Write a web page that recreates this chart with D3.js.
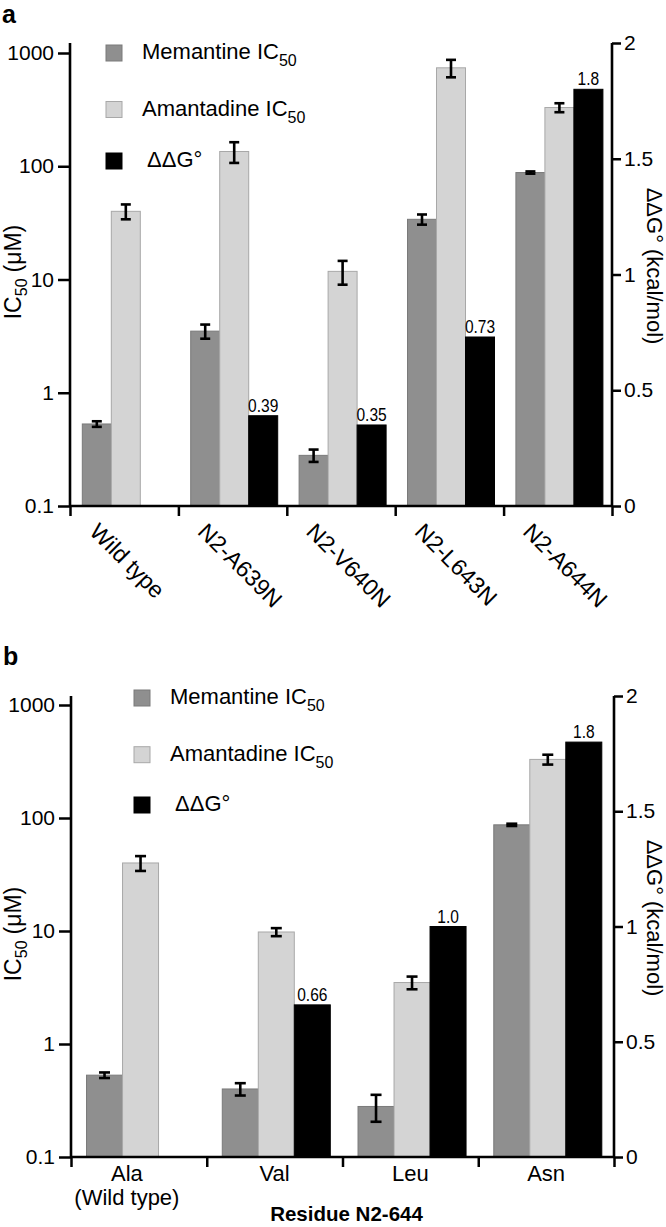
<!DOCTYPE html>
<html><head><meta charset="utf-8">
<script src="https://cdn.jsdelivr.net/npm/d3@7"></script>
<style>
body{margin:0;background:#fff}
svg{display:block}
text{font-family:"Liberation Sans",Arial,Helvetica,sans-serif;fill:#000}
</style>
</head><body>
<svg id="c" width="666" height="1227"></svg>
<script>
// ---------- data ----------
const seriesKeys = ["mem", "ama", "ddg"];
const seriesNames = ["Memantine IC", "Amantadine IC", "\u0394\u0394G\u00B0"];
const seriesSubs = ["50", "50", ""];
const icTicks = [0.1, 1, 10, 100, 1000];
const icTickLabels = ["0.1", "1", "10", "100", "1000"];
const ddgTicks = [0, 0.5, 1, 1.5, 2];
const ddgTickLabels = ["0", "0.5", "1", "1.5", "2"];

// panel a
const categoriesA = ["Wild type", "N2-A639N", "N2-V640N", "N2-L643N", "N2-A644N"];
const memantineA = [0.53, 3.5, 0.28, 34, 88];
const memantineErrA = [0.03, 0.5, 0.035, 3.5, 2];
const amantadineA = [40, 135, 11.8, 740, 330];
const amantadineErrA = [6, 28, 2.8, 130, 30];
const ddgA = [null, 0.39, 0.35, 0.73, 1.8];
const ddgLabelsA = ["", "0.39", "0.35", "0.73", "1.8"];

// panel b
const categoriesB = ["Ala", "Val", "Leu", "Asn"];
const subCategoriesB = ["(Wild type)", "", "", ""];
const memantineB = [0.53, 0.40, 0.28, 87];
const memantineErrB = [0.03, 0.05, 0.075, 2];
const amantadineB = [40, 9.8, 3.5, 330];
const amantadineErrB = [6, 0.8, 0.45, 33];
const ddgB = [null, 0.66, 1.0, 1.8];
const ddgLabelsB = ["", "0.66", "1.0", "1.8"];
const xTitleB = "Residue N2-644";

// ---------- drawing ----------
const svg = d3.select("#c");
const colors = {mem: "#8f8f8f", ama: "#d4d4d4", ddg: "#000"};
const strokes = {mem: "#7a7a7a", ama: "#a8a8a8", ddg: "#000"};

function panel(cfg, D) {
  const g = svg.append("g");
  const yL = d3.scaleLog().domain([0.1, 1000]).range([cfg.yBottom, cfg.yBottom - 4 * cfg.decade]);
  const yR = d3.scaleLinear().domain([0, 2]).range([cfg.yBottom, cfg.yTop]);
  const x = d3.scaleBand().domain(D.categories).range([cfg.x0, cfg.x1]).padding(0);
  const xs = d3.scaleBand().domain(seriesKeys).range([0, x.bandwidth()])
    .paddingInner(0).paddingOuter(cfg.outer).align(cfg.align);

  // panel letter
  g.append("text").attr("x", cfg.letterX).attr("y", cfg.letterY)
    .style("font-size", "25px").style("font-weight", "bold").text(cfg.letter);

  // bars
  const series = [
    {k: "mem", v: D.mem, e: D.memErr, s: yL},
    {k: "ama", v: D.ama, e: D.amaErr, s: yL},
    {k: "ddg", v: D.ddg, e: null, s: yR}
  ];
  series.forEach(S => {
    const rows = D.categories.map((c, i) => ({c, v: S.v[i], e: S.e ? S.e[i] : null, i}))
      .filter(d => d.v != null);
    g.append("g").selectAll("rect").data(rows).join("rect")
      .attr("x", d => x(d.c) + xs(S.k))
      .attr("width", xs.bandwidth())
      .attr("y", d => S.s(d.v))
      .attr("height", d => cfg.yBottom - S.s(d.v))
      .attr("fill", colors[S.k]).attr("stroke", strokes[S.k]).attr("stroke-width", 1);
    if (S.e) {
      const eg = g.append("g").attr("stroke", "#000").attr("stroke-width", 2.6);
      rows.forEach(d => {
        const cx = x(d.c) + xs(S.k) + xs.bandwidth() / 2;
        const y1 = S.s(d.v + d.e), y2 = S.s(Math.max(d.v - d.e, 0.1001));
        eg.append("line").attr("x1", cx).attr("x2", cx).attr("y1", y1).attr("y2", y2);
        eg.append("line").attr("x1", cx - cfg.cap).attr("x2", cx + cfg.cap).attr("y1", y1).attr("y2", y1);
        eg.append("line").attr("x1", cx - cfg.cap).attr("x2", cx + cfg.cap).attr("y1", y2).attr("y2", y2);
      });
    }
    if (S.k === "ddg") {
      g.append("g").selectAll("text").data(rows).join("text")
        .attr("transform", d => `translate(${x(d.c) + xs(S.k) + xs.bandwidth() / 2},${S.s(d.v) - 4}) scale(0.84,1)`)
        .attr("text-anchor", "middle").style("font-size", "18.5px")
        .text(d => D.ddgLabels[d.i]);
    }
  });

  // axes
  const axL = g.append("g").attr("transform", `translate(${cfg.x0},0)`)
    .call(d3.axisLeft(yL).tickValues(icTicks).tickFormat((d, i) => icTickLabels[i])
      .tickSize(12).tickSizeOuter(0).tickPadding(4));
  const axR = g.append("g").attr("transform", `translate(${cfg.x1},0)`)
    .call(d3.axisRight(yR).tickValues(ddgTicks).tickFormat((d, i) => ddgTickLabels[i])
      .tickSize(9).tickSizeOuter(0).tickPadding(3));
  const xi = d3.scaleLinear().domain([0, D.categories.length]).range([cfg.x0, cfg.x1]);
  const axB = g.append("g").attr("transform", `translate(0,${cfg.yBottom})`)
    .call(d3.axisBottom(xi).tickValues(d3.range(D.categories.length + 1)).tickFormat("").tickSize(10).tickSizeOuter(0));
  [axL, axR, axB].forEach(a => {
    a.select(".domain").remove();
    a.selectAll("line").attr("stroke", "#000").attr("stroke-width", 2.5);
    a.selectAll("text").style("font-size", "21px").attr("fill", "#000")
      .style("font-family", '"Liberation Sans",Arial,sans-serif');
  });
  const dl = g.append("g").attr("stroke", "#000").attr("stroke-width", 2.6).attr("fill", "none");
  dl.append("line").attr("x1", cfg.x0).attr("x2", cfg.x0).attr("y1", cfg.yTop).attr("y2", cfg.yBottom + 1);
  dl.append("line").attr("x1", cfg.x1).attr("x2", cfg.x1).attr("y1", cfg.yTop).attr("y2", cfg.yBottom + 1);
  dl.append("line").attr("x1", cfg.x0).attr("x2", cfg.x1).attr("y1", cfg.yBottom).attr("y2", cfg.yBottom);

  // axis titles
  const tl = g.append("text").attr("transform", `translate(${cfg.yTitleX},${cfg.yTitleY}) rotate(-90)`)
    .attr("text-anchor", "middle").style("font-size", "23px");
  tl.append("tspan").text("IC");
  tl.append("tspan").attr("dy", 6).style("font-size", "16px").text("50");
  tl.append("tspan").attr("dy", -6).attr("dx", 6).text("(\u03BCM)");
  g.append("text").attr("transform", `translate(${cfg.y2TitleX},${cfg.y2TitleY}) rotate(90)`)
    .attr("text-anchor", "middle").style("font-size", "22px").text("\u0394\u0394G\u00B0 (kcal/mol)");

  // category labels
  if (cfg.rotated) {
    g.append("g").selectAll("text").data(D.categories).join("text")
      .attr("transform", d => `translate(${x(d) + x.bandwidth() / 2 + cfg.labDx},${cfg.labY}) rotate(45)`)
      .style("font-size", "23px").text(d => d);
  } else {
    g.append("g").selectAll("text").data(D.categories).join("text")
      .attr("x", (d, i) => x(d) + x.bandwidth() / 2 + (D.subs[i] ? cfg.subDx : 0))
      .attr("y", cfg.labY).attr("text-anchor", "middle").style("font-size", "22px").text(d => d);
    g.append("g").selectAll("text").data(D.categories).join("text")
      .attr("x", (d, i) => x(d) + x.bandwidth() / 2 + (D.subs[i] ? cfg.subDx : 0))
      .attr("y", cfg.labY + 24).attr("text-anchor", "middle").style("font-size", "22px")
      .text((d, i) => D.subs[i]);
    g.append("text").attr("x", (cfg.x0 + cfg.x1) / 2 + cfg.titleDx).attr("y", cfg.xTitleY)
      .attr("text-anchor", "middle").style("font-size", "20.5px").style("font-weight", "bold")
      .text(D.xTitle);
  }

  // legend
  const lg = g.append("g");
  seriesKeys.forEach((k, i) => {
    const cy = cfg.legY[i];
    lg.append("rect").attr("x", cfg.legX).attr("y", cy - 8).attr("width", 16).attr("height", 16)
      .attr("fill", colors[k]).attr("stroke", strokes[k]).attr("stroke-width", 1);
    const t = lg.append("text").attr("x", cfg.legTextX + (k === "ddg" ? 5 : 0)).attr("y", cy + 6)
      .style("font-size", "22px");
    t.append("tspan").text(seriesNames[i]);
    if (seriesSubs[i]) t.append("tspan").attr("dy", 7).style("font-size", "16px").text(seriesSubs[i]);
  });
}

panel({
  letter: "a", letterX: 2, letterY: 23,
  x0: 70, x1: 612, yBottom: 506, yTop: 43, decade: 113.25,
  outer: 0.369, align: 0.575, cap: 5,
  yTitleX: 21, yTitleY: 272, y2TitleX: 647, y2TitleY: 266,
  rotated: true, labDx: -36, labY: 533,
  legX: 106, legTextX: 142, legY: [53, 109.5, 161]
}, {
  categories: categoriesA, mem: memantineA, memErr: memantineErrA,
  ama: amantadineA, amaErr: amantadineErrA, ddg: ddgA, ddgLabels: ddgLabelsA
});

panel({
  letter: "b", letterX: 3, letterY: 665,
  x0: 71, x1: 614, yBottom: 1157, yTop: 696, decade: 113,
  outer: 0.385, align: 0.56, cap: 5.5,
  yTitleX: 21, yTitleY: 934, y2TitleX: 647, y2TitleY: 918,
  rotated: false, labY: 1181, subDx: -12, xTitleY: 1221, titleDx: 4,
  legX: 134, legTextX: 170, legY: [698, 754.7, 805]
}, {
  categories: categoriesB, subs: subCategoriesB, xTitle: xTitleB,
  mem: memantineB, memErr: memantineErrB,
  ama: amantadineB, amaErr: amantadineErrB, ddg: ddgB, ddgLabels: ddgLabelsB
});
</script>
</body></html>
